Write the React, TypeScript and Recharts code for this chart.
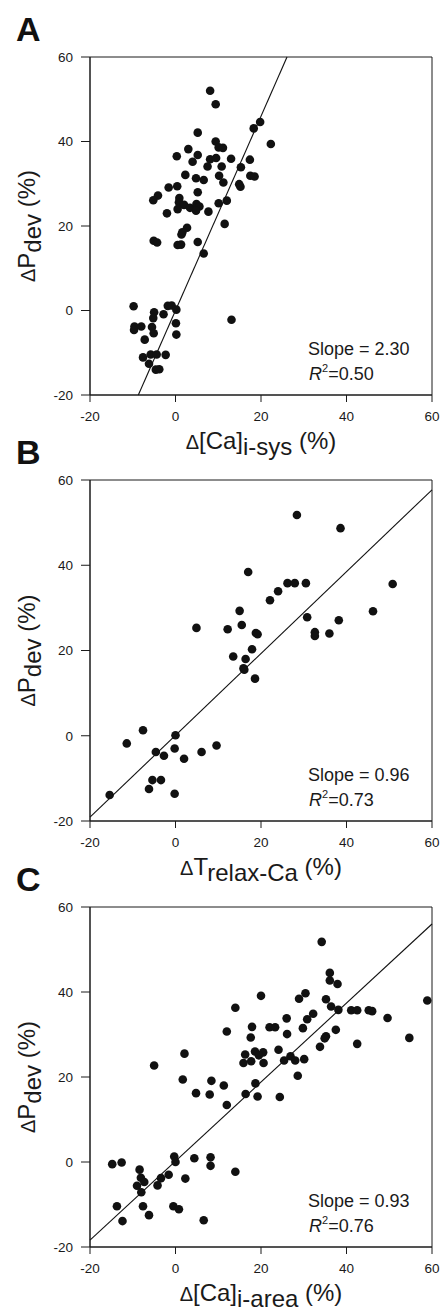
import React from "react";
import {
  ScatterChart,
  Scatter,
  XAxis,
  YAxis,
  ReferenceLine,
  ReferenceArea,
} from "recharts";

const axisTicks = [-20, 0, 20, 40, 60];

// panel A: d[Ca]i-sys vs dPdev
const caSysX = [8.1, 9.4, 19.8, 18.3, 22.3, 5.2, 9.4, 10.1, 11.1, 3.0, 0.3, 5.2, 4.0, 8.1, 9.5, 13.0, 17.4, 7.5, 10.8, 15.3, 2.3, 4.8, 6.6, 10.2, 17.5, 18.5, 11.2, 14.9, 15.2, -1.6, 0.4, 5.2, -4.1, -5.2, 0.9, 0.8, 2.0, 3.4, 4.9, 5.6, 4.8, 0.5, 7.7, 10.1, 12.0, -2.0, 11.5, 2.7, 1.6, 1.4, -5.1, -4.3, 0.5, 1.3, 5.2, 6.6, -9.8, -1.8, -0.9, 0.2, -5.0, -2.8, -5.2, 13.1, -9.6, -8.0, -9.7, -5.5, 0.1, -5.1, 0.2, -7.2, -7.6, -5.8, -4.4, -2.3, -6.2, -4.6, -3.8];
const caSysY = [52.0, 48.8, 44.6, 43.1, 39.4, 42.1, 40.0, 38.6, 38.5, 38.2, 36.5, 36.8, 35.2, 35.8, 36.1, 35.9, 35.7, 34.1, 34.1, 33.9, 32.1, 31.3, 30.9, 31.9, 31.9, 31.7, 30.3, 29.9, 29.3, 29.1, 29.4, 28.0, 27.2, 26.1, 26.6, 25.6, 25.0, 24.3, 25.2, 24.6, 23.6, 24.0, 23.4, 25.4, 26.0, 23.0, 20.5, 19.6, 18.5, 18.0, 16.5, 16.1, 15.5, 15.6, 16.2, 13.5, 1.0, 1.1, 1.2, 0.2, -0.4, -0.9, -1.8, -2.2, -3.8, -3.8, -4.6, -3.9, -3.0, -5.4, -5.7, -6.9, -11.1, -10.4, -10.4, -10.5, -12.6, -14.0, -13.9];

// panel B: dTrelax-Ca vs dPdev
const relaxX = [28.4, 38.6, 17.0, 26.2, 27.9, 30.5, 50.8, 24.0, 22.1, 15.0, 46.2, 30.8, 38.2, 4.9, 12.2, 15.5, 18.8, 19.2, 32.6, 32.6, 36.0, 17.9, 13.5, 16.4, 15.9, 16.1, 18.6, -7.6, -11.4, 0.0, -0.2, -4.6, -2.7, 2.0, 6.1, 9.6, -5.4, -3.4, -6.2, -0.2, -15.4];
const relaxY = [51.8, 48.7, 38.4, 35.8, 35.8, 35.8, 35.6, 33.9, 31.8, 29.3, 29.2, 27.8, 27.1, 25.3, 25.0, 26.0, 24.1, 23.8, 24.3, 23.4, 24.0, 20.3, 18.6, 18.0, 15.8, 15.5, 13.4, 1.3, -1.8, 0.1, -3.0, -3.8, -4.7, -5.4, -3.8, -2.3, -10.4, -10.4, -12.5, -13.6, -13.9];

// panel C: d[Ca]i-area vs dPdev
const caAreaX = [34.2, 36.1, 36.1, 37.9, 20.0, 30.4, 28.9, 35.2, 58.9, 14.0, 36.4, 38.1, 41.1, 42.5, 45.2, 46.0, 32.2, 30.8, 26.0, 49.6, 17.9, 22.0, 23.3, 29.8, 12.0, 37.5, 26.1, 17.6, 35.2, 34.9, 54.7, 42.5, 33.8, 2.1, 24.1, 18.6, 20.5, 16.3, 19.5, 26.9, 15.9, 17.7, 20.6, 25.4, 28.0, 30.1, -5.0, 28.6, 1.7, 8.4, 11.3, 18.7, 4.8, 8.0, 16.4, 19.2, 24.4, 12.0, -14.8, -12.6, -0.3, 0.0, 4.4, 8.2, 8.2, -8.4, -8.1, -7.3, -3.4, -1.6, -9.0, -4.2, -8.0, 2.3, 14.0, -13.7, -7.6, -0.5, 0.8, -6.2, -12.4, 6.6];
const caAreaY = [51.8, 44.5, 42.7, 41.9, 39.1, 39.7, 38.4, 38.3, 38.0, 36.3, 36.6, 35.8, 35.7, 35.7, 35.7, 35.5, 34.9, 33.6, 33.8, 33.9, 31.8, 31.7, 31.7, 31.5, 30.7, 31.1, 30.1, 29.3, 29.6, 29.1, 29.2, 27.8, 27.1, 25.5, 26.4, 26.0, 25.8, 25.3, 25.1, 24.9, 23.3, 23.7, 23.3, 23.9, 23.9, 24.2, 22.7, 20.3, 19.4, 19.1, 18.0, 18.5, 16.2, 15.9, 16.0, 15.4, 15.3, 13.4, -0.5, -0.1, 1.3, 0.0, 0.9, 1.1, -0.9, -1.8, -3.7, -4.7, -3.8, -3.0, -5.6, -5.5, -7.1, -3.9, -2.3, -10.4, -10.4, -10.4, -11.1, -12.5, -13.9, -13.7];

const fitSlopes = [2.3, 0.96, 0.93];
const fitIntercepts = [0.0, 0.1, 0.2];
const slopeLabels = ["2.30", "0.96", "0.93"];
const r2Labels = ["0.50", "0.73", "0.76"];

const ink = "#1a1a1a";

const toPoints = (xs: number[], ys: number[]) =>
  xs.map((x, i) => ({ x, y: ys[i] }));

// clip the fitted line to the -20..60 box
const fitSegment = (slope: number, icpt: number) => {
  const lo = -20;
  const hi = 60;
  let xa = lo;
  let ya = slope * lo + icpt;
  if (ya < lo) {
    xa = (lo - icpt) / slope;
    ya = lo;
  }
  let xb = hi;
  let yb = slope * hi + icpt;
  if (yb > hi) {
    xb = (hi - icpt) / slope;
    yb = hi;
  }
  return [
    { x: xa, y: ya },
    { x: xb, y: yb },
  ];
};

const Dot = (props: any) => (
  <circle cx={props.cx} cy={props.cy} r={4.3} fill="#111" />
);

const YTitle = (props: any) => {
  const { y, height } = props.viewBox;
  const cx = 35;
  const cy = y + height / 2;
  return (
    <g>
      <text x={16} y={y - 16} fontSize={34} fontWeight="bold" fill="#111">
        {props.letter}
      </text>
      <text
        x={cx}
        y={cy}
        transform={`rotate(-90 ${cx} ${cy})`}
        textAnchor="middle"
        fontSize={24}
        fill={ink}
        style={{ whiteSpace: "pre" }}
      >
        <tspan fontSize={20}>Δ</tspan>
        <tspan>P</tspan>
        <tspan dy={6}>dev</tspan>
        <tspan dy={-6}> (%)</tspan>
      </text>
    </g>
  );
};

const XTitle = (props: any) => {
  const { x, y, width } = props.viewBox;
  return (
    <g>
      <text
        x={x + width / 2}
        y={y + 54}
        textAnchor="middle"
        fontSize={24}
        fill={ink}
        style={{ whiteSpace: "pre" }}
      >
        <tspan fontSize={20}>Δ</tspan>
        <tspan>{props.main}</tspan>
        <tspan dy={6}>{props.sub}</tspan>
        <tspan dy={-6}> (%)</tspan>
      </text>
      <text x={x + 218} y={y - 40} fontSize={18} fill={ink}>
        Slope = {props.slope}
      </text>
      <text x={x + 219} y={y - 15} fontSize={18} fill={ink}>
        <tspan fontStyle="italic">R</tspan>
        <tspan fontSize={11} dy={-8}>2</tspan>
        <tspan dy={8}>={props.r2}</tspan>
      </text>
    </g>
  );
};

type PanelProps = {
  top: number;
  marginTop: number;
  marginBottom: number;
  letter: string;
  xs: number[];
  ys: number[];
  main: string;
  sub: string;
  idx: number;
};

const Panel = ({ top, marginTop, marginBottom, letter, xs, ys, main, sub, idx }: PanelProps) => {
  const data = toPoints(xs, ys);
  return (
    <div style={{ position: "absolute", left: 0, top }}>
      <ScatterChart
        width={441}
        height={470}
        margin={{ top: marginTop, right: 9, bottom: marginBottom, left: 0 }}
      >
        <XAxis
          type="number"
          dataKey="x"
          domain={[-20, 60]}
          ticks={axisTicks}
          allowDataOverflow
          height={60}
          stroke={ink}
          tickSize={7}
          tickMargin={9}
          tick={{ fontSize: 13.5, fill: ink }}
          label={<XTitle main={main} sub={sub} slope={slopeLabels[idx]} r2={r2Labels[idx]} />}
        />
        <YAxis
          type="number"
          dataKey="y"
          domain={[-20, 60]}
          ticks={axisTicks}
          allowDataOverflow
          width={90}
          stroke={ink}
          tickSize={9}
          tickMargin={8}
          tick={{ fontSize: 13.5, fill: ink }}
          label={<YTitle letter={letter} />}
        />
        <ReferenceArea
          x1={-20}
          x2={60}
          y1={-20}
          y2={60}
          fill="none"
          fillOpacity={0}
          stroke={ink}
          strokeOpacity={1}
        />
        <ReferenceLine
          segment={fitSegment(fitSlopes[idx], fitIntercepts[idx])}
          stroke="#111"
          strokeWidth={1.1}
        />
        <Scatter data={data} shape={<Dot />} isAnimationActive={false} />
      </ScatterChart>
    </div>
  );
};

export default function App() {
  return (
    <div
      style={{
        position: "absolute",
        left: 0,
        top: 0,
        width: 441,
        height: 1312,
        background: "#fff",
        fontFamily: "'Liberation Sans', Arial, sans-serif",
      }}
    >
      <Panel top={0} marginTop={57} marginBottom={15} letter="A" xs={caSysX} ys={caSysY} main="[Ca]" sub="i-sys" idx={0} />
      <Panel top={424} marginTop={56} marginBottom={13} letter="B" xs={relaxX} ys={relaxY} main="T" sub="relax-Ca" idx={1} />
      <Panel top={850} marginTop={57} marginBottom={13} letter="C" xs={caAreaX} ys={caAreaY} main="[Ca]" sub="i-area" idx={2} />
    </div>
  );
}
